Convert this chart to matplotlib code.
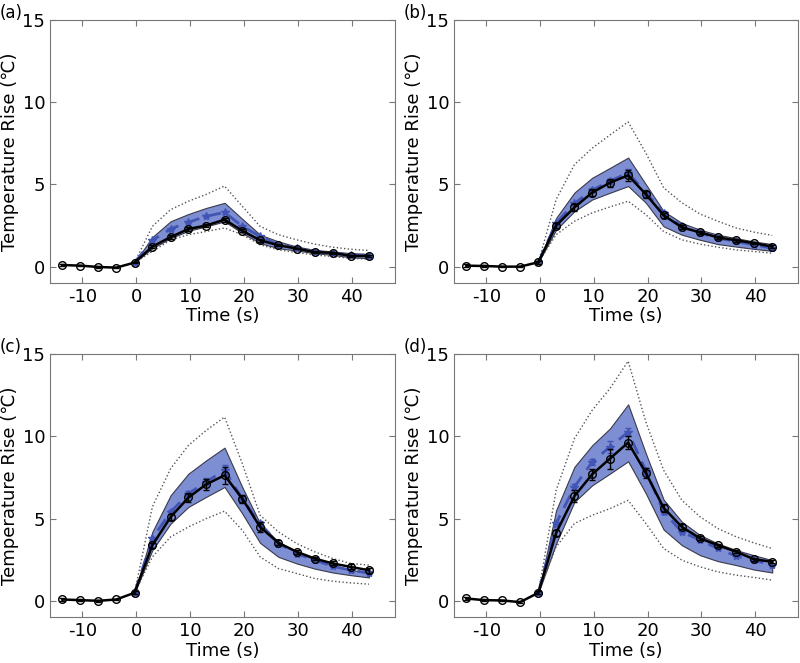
import numpy as np
import matplotlib.pyplot as plt

plt.rcParams['axes.unicode_minus'] = False

# sample times (s)
t = [-13.7, -10.4, -7.0, -3.7, -0.3, 3.0, 6.4, 9.7, 13.0, 16.4,
     19.7, 23.0, 26.4, 29.8, 33.1, 36.5, 39.8, 43.2]
t_sim = t[4:]

# measured mean (black solid)
meas_a = [0.10, 0.06, -0.02, -0.06, 0.25, 1.22, 1.80, 2.29, 2.50, 2.86, 2.18, 1.60, 1.30, 1.10, 0.88, 0.84, 0.65, 0.65]
meas_b = [0.06, 0.04, 0.00, 0.00, 0.27, 2.50, 3.60, 4.50, 5.10, 5.55, 4.40, 3.12, 2.39, 2.08, 1.78, 1.60, 1.43, 1.22]
meas_c = [0.08, 0.04, 0.00, 0.08, 0.49, 3.38, 5.10, 6.28, 7.08, 7.63, 6.20, 4.49, 3.52, 2.98, 2.57, 2.27, 2.06, 1.86]
meas_d = [0.14, 0.04, 0.02, -0.08, 0.49, 4.13, 6.36, 7.69, 8.64, 9.62, 7.77, 5.65, 4.49, 3.79, 3.38, 2.98, 2.53, 2.37]

# measured error bars
err_a = [0.05, 0.05, 0.05, 0.05, 0.05, 0.08, 0.10, 0.10, 0.10, 0.12, 0.10, 0.08, 0.06, 0.05, 0.05, 0.05, 0.05, 0.05]
err_b = [0.08, 0.08, 0.05, 0.05, 0.08, 0.15, 0.20, 0.22, 0.25, 0.35, 0.20, 0.15, 0.12, 0.10, 0.08, 0.08, 0.08, 0.08]
err_c = [0.08, 0.05, 0.05, 0.05, 0.08, 0.15, 0.20, 0.30, 0.35, 0.50, 0.25, 0.30, 0.15, 0.12, 0.12, 0.12, 0.15, 0.15]
err_d = [0.08, 0.05, 0.05, 0.08, 0.10, 0.20, 0.35, 0.35, 0.60, 0.40, 0.30, 0.25, 0.15, 0.12, 0.10, 0.10, 0.10, 0.10]

# simulated mean (blue dashed), starting at t = -0.3
sim_a = [0.25, 1.60, 2.30, 2.70, 3.06, 3.30, 2.45, 1.84, 1.33, 1.12, 0.92, 0.82, 0.71, 0.65]
sim_b = [0.27, 2.65, 3.84, 4.65, 5.20, 5.70, 4.50, 3.27, 2.45, 2.04, 1.73, 1.53, 1.33, 1.12]
sim_c = [0.49, 3.79, 5.40, 6.52, 7.23, 7.94, 6.20, 4.70, 3.48, 2.87, 2.47, 2.10, 1.86, 1.70]
sim_d = [0.49, 4.70, 6.92, 8.44, 9.35, 10.26, 7.90, 5.40, 4.19, 3.68, 3.18, 2.71, 2.47, 2.17]

# shaded band (upper / lower)
band_hi_a = [0.25, 1.80, 2.76, 3.20, 3.57, 3.88, 2.90, 1.94, 1.53, 1.22, 1.02, 0.92, 0.82, 0.78]
band_lo_a = [0.25, 1.12, 1.73, 2.18, 2.45, 2.75, 2.04, 1.43, 1.12, 0.98, 0.82, 0.71, 0.57, 0.51]
band_hi_b = [0.27, 2.96, 4.50, 5.40, 6.00, 6.63, 5.00, 3.37, 2.65, 2.24, 1.94, 1.73, 1.53, 1.37]
band_lo_b = [0.27, 2.24, 3.37, 4.08, 4.49, 4.90, 3.88, 2.45, 1.94, 1.63, 1.37, 1.22, 1.08, 0.96]
band_hi_c = [0.49, 4.19, 6.42, 7.73, 8.54, 9.31, 6.90, 4.70, 3.58, 2.98, 2.51, 2.17, 1.90, 1.66]
band_lo_c = [0.49, 3.08, 4.70, 5.71, 6.32, 6.92, 5.30, 3.52, 2.67, 2.27, 1.96, 1.72, 1.56, 1.42]
band_hi_d = [0.49, 5.50, 8.14, 9.45, 10.47, 11.94, 8.95, 6.15, 4.80, 3.99, 3.48, 3.08, 2.77, 2.47]
band_lo_d = [0.49, 3.48, 6.01, 7.02, 7.73, 8.48, 6.52, 4.33, 3.38, 2.77, 2.41, 2.17, 1.90, 1.72]

# dotted envelope (upper / lower)
dot_hi_a = [0.25, 2.45, 3.47, 3.98, 4.39, 4.90, 3.67, 2.45, 1.94, 1.63, 1.37, 1.18, 1.06, 0.98]
dot_lo_a = [0.25, 0.92, 1.63, 1.94, 2.14, 2.35, 1.94, 1.33, 1.02, 0.86, 0.71, 0.61, 0.51, 0.45]
dot_hi_b = [0.27, 4.08, 6.20, 7.20, 8.00, 8.80, 6.90, 4.80, 3.88, 3.20, 2.76, 2.35, 2.10, 1.90]
dot_lo_b = [0.27, 1.94, 2.76, 3.27, 3.63, 3.98, 3.16, 2.14, 1.63, 1.37, 1.18, 1.02, 0.92, 0.82]
dot_hi_c = [0.49, 5.71, 8.04, 9.45, 10.36, 11.17, 8.34, 5.20, 4.19, 3.48, 2.98, 2.57, 2.27, 2.17]
dot_lo_c = [0.49, 2.67, 3.89, 4.49, 5.00, 5.45, 4.29, 2.67, 1.96, 1.66, 1.36, 1.19, 1.09, 1.01]
dot_hi_d = [0.49, 6.72, 9.86, 11.58, 12.90, 14.57, 10.87, 7.94, 6.11, 5.10, 4.39, 3.89, 3.52, 3.18]
dot_lo_d = [0.49, 3.28, 4.70, 5.20, 5.60, 6.11, 4.70, 3.18, 2.47, 2.06, 1.76, 1.56, 1.42, 1.26]

panels = [
    ('(a)', meas_a, err_a, sim_a, band_hi_a, band_lo_a, dot_hi_a, dot_lo_a),
    ('(b)', meas_b, err_b, sim_b, band_hi_b, band_lo_b, dot_hi_b, dot_lo_b),
    ('(c)', meas_c, err_c, sim_c, band_hi_c, band_lo_c, dot_hi_c, dot_lo_c),
    ('(d)', meas_d, err_d, sim_d, band_hi_d, band_lo_d, dot_hi_d, dot_lo_d),
]

positions = [
    [0.0625, 0.573, 0.431, 0.397],
    [0.5675, 0.573, 0.430, 0.397],
    [0.0625, 0.069, 0.431, 0.397],
    [0.5675, 0.069, 0.430, 0.397],
]

fig = plt.figure(figsize=(8, 6.63), dpi=100)

for (lab, meas, err, sim, bhi, blo, dhi, dlo), pos in zip(panels, positions):
    ax = fig.add_axes(pos)
    ax.fill_between(t_sim, blo, bhi, facecolor='#7d8ed2', edgecolor='#3a3a4a',
                    linewidth=0.8, zorder=1)
    ax.plot(t_sim, dhi, ':', color='#555555', linewidth=1.0, zorder=2)
    ax.plot(t_sim, dlo, ':', color='#555555', linewidth=1.0, zorder=2)
    sim_err = [0.6 * e for e in err[4:]]
    ax.errorbar(t_sim, sim, yerr=sim_err, fmt='--', color='#4255b5', marker='*',
                markersize=6, linewidth=2, dashes=(5, 3), capsize=2,
                elinewidth=1, zorder=3)
    ax.errorbar(t, meas, yerr=err, fmt='-', color='black', marker='o',
                markerfacecolor='none', markeredgecolor='black', markersize=5.5,
                linewidth=1.8, capsize=2.5, elinewidth=1, zorder=4)

    ax.set_xlim(-16, 48)
    ax.set_ylim(-1, 15)
    ax.set_xticks([-10, 0, 10, 20, 30, 40])
    ax.set_yticks([0, 5, 10, 15])
    ax.tick_params(direction='in', top=True, right=True, labelsize=13,
                   color='#777777', length=4)
    for s in ax.spines.values():
        s.set_color('#777777')
    ax.set_xlabel('Time (s)', fontsize=13, labelpad=1)
    ax.set_ylabel('Temperature Rise (℃)', fontsize=13, labelpad=2)
    ax.text(-0.145, 1.025, lab, transform=ax.transAxes, fontsize=12,
            ha='left', va='center')

fig.savefig('out.png', dpi=100)
